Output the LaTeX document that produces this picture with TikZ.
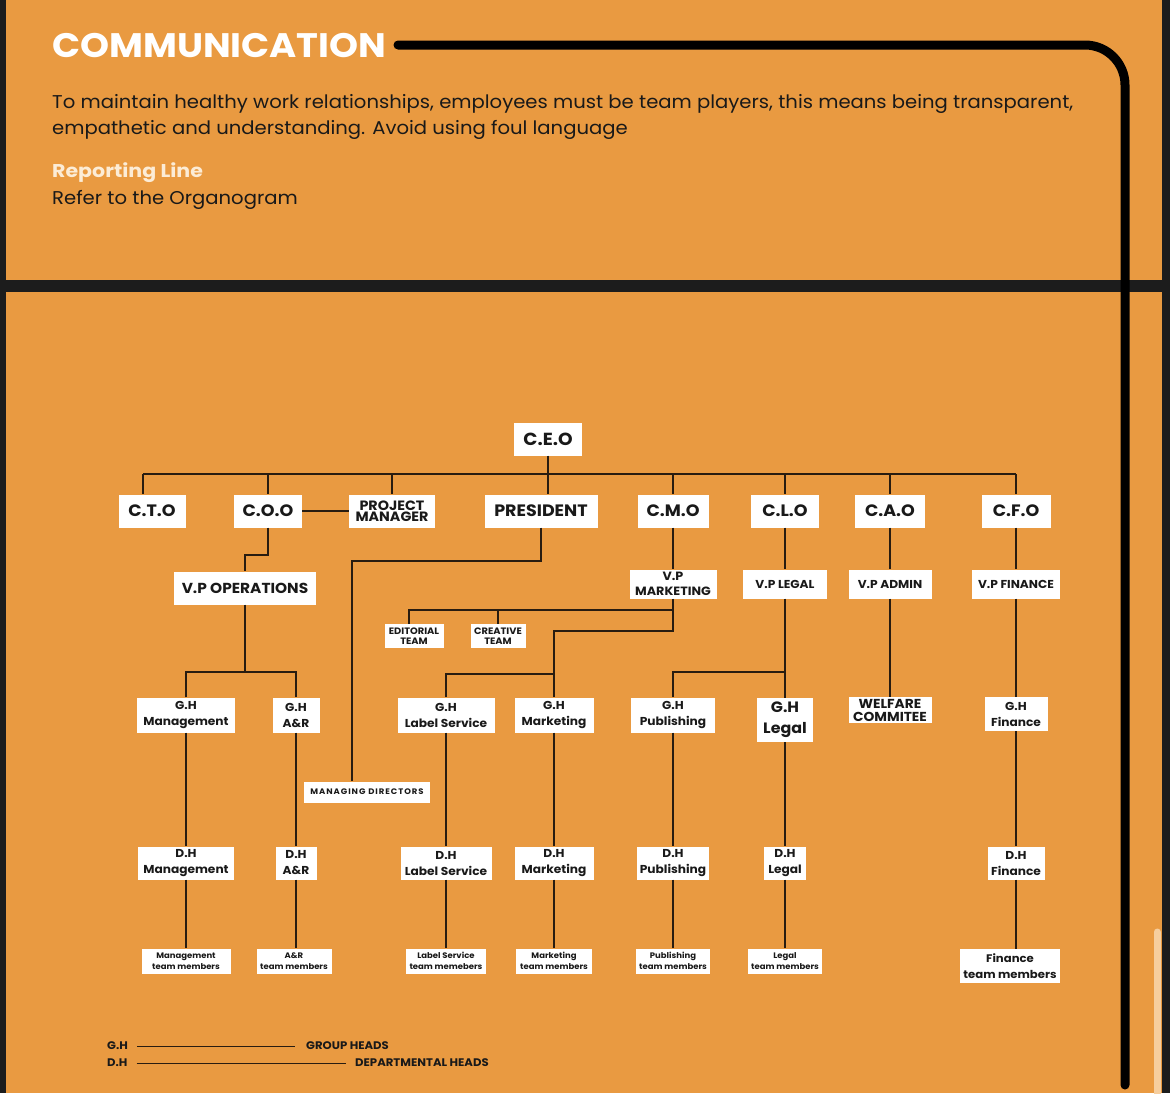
\documentclass[tikz,border=0pt]{standalone}
\usepackage{fontspec}
\setmainfont{Poppins}[FakeStretch=1.06]
\usetikzlibrary{positioning}
\definecolor{pageorange}{RGB}{233,154,65}
\definecolor{framedark}{RGB}{28,28,28}
\definecolor{inkline}{RGB}{40,28,16}
\definecolor{creamtext}{RGB}{252,236,214}
\definecolor{scrollpale}{RGB}{246,206,158}

\begin{document}
\begin{tikzpicture}[x=1pt, y=-1pt,
  box/.style={fill=white, text=black!90, inner xsep=3pt, inner ysep=0pt, minimum height=33pt, align=center, font=\bfseries\fontsize{16.5}{16}\selectfont},
  vpbox/.style={box, minimum height=29pt, font=\bfseries\fontsize{11.5}{15}\selectfont},
  headbox/.style={box, minimum height=35pt, font=\bfseries\fontsize{11.5}{16}\selectfont},
  teambox/.style={box, minimum height=25pt, font=\bfseries\fontsize{8}{11}\selectfont},
  tinybox/.style={box, minimum height=24pt, font=\bfseries\fontsize{9.3}{10}\selectfont},
  link/.style={draw=inkline, line width=1.4pt},
  legend/.style={inner xsep=0pt, inner ysep=0pt, text=black!90, font=\bfseries\fontsize{11}{11}\selectfont}]
\useasboundingbox (0,0) rectangle (1170,1093);
% page and frame
\fill[framedark] (0,0) rectangle (1170,1093);
\fill[pageorange] (6,0) rectangle (1162,280);
\fill[pageorange] (6,292) rectangle (1162,1093);
\draw[scrollpale, line width=7pt, line cap=round] (1157,932) -- (1157,1100);
\draw[black, line width=9pt, line cap=round, rounded corners=40pt] (398,45) -- (1125,45) -- (1125,1085);

% header text
\node[anchor=base west, inner sep=0, text=white, font=\bfseries\fontsize{34}{34}\selectfont\addfontfeature{FakeStretch=1.085}] (title) at (52,57) {COMMUNICATION};
\node[anchor=base west, inner sep=0, text=black!90, font=\fontsize{18.5}{20}\selectfont] (intro1) at (52,108) {To maintain healthy work relationships, employees must be team players, this means being transparent,};
\node[anchor=base west, inner sep=0, text=black!90, font=\fontsize{18.5}{20}\selectfont] (intro2) at (52,134) {empathetic and understanding. Avoid using foul language};
\node[anchor=base west, inner sep=0, text=creamtext, font=\bfseries\fontsize{18.5}{20}\selectfont\addfontfeature{FakeStretch=1.11}] (replabel) at (52,177) {Reporting Line};
\node[anchor=base west, inner sep=0, text=black!90, font=\fontsize{18.5}{20}\selectfont] (reptext) at (52,204) {Refer to the Organogram};

% chiefs
\node[box, minimum width=68pt, font=\bfseries\fontsize{17.5}{16}\selectfont] (ceo) at (548,439) {C.E.O};
\node[box, minimum width=67pt] (cto) at (152,511) {C.T.O};
\node[box, minimum width=68pt] (coo) at (268,511) {C.O.O};
\node[box, minimum width=86pt, font=\bfseries\fontsize{13.5}{11.5}\selectfont] (pm) at (392,511) {PROJECT\\MANAGER};
\node[box, minimum width=113pt] (president) at (541,511) {PRESIDENT};
\node[box, minimum width=71pt] (cmo) at (673,511) {C.M.O};
\node[box, minimum width=68pt] (clo) at (785,511) {C.L.O};
\node[box, minimum width=70pt] (cao) at (890,511) {C.A.O};
\node[box, minimum width=69pt] (cfo) at (1016,511) {C.F.O};

% vice presidents
\node[box, minimum width=142pt, font=\bfseries\fontsize{14.5}{14}\selectfont] (vpops) at (245,588) {V.P OPERATIONS};
\node[vpbox, minimum width=87pt, font=\bfseries\fontsize{12}{15.5}\selectfont] (vpmkt) at (673,584) {V.P\\MARKETING};
\node[vpbox, minimum width=84pt] (vplegal) at (785,584) {V.P LEGAL};
\node[vpbox, minimum width=83pt] (vpadmin) at (890,584) {V.P ADMIN};
\node[vpbox, minimum width=88pt] (vpfin) at (1016,584) {V.P FINANCE};
\node[tinybox, minimum width=59pt] (editorial) at (414,636) {EDITORIAL\\TEAM};
\node[tinybox, minimum width=55pt] (creative) at (498,636) {CREATIVE\\TEAM};

% group heads
\node[headbox, minimum width=98pt] (ghmgt) at (186,715) {G.H\\Management};
\node[headbox, minimum width=47pt] (ghar) at (296,715) {G.H\\A\&R};
\node[headbox, minimum width=97pt] (ghlbl) at (446,715) {G.H\\Label Service};
\node[headbox, minimum width=79pt] (ghmkt) at (554,715) {G.H\\Marketing};
\node[headbox, minimum width=84pt] (ghpub) at (673,715) {G.H\\Publishing};
\node[headbox, minimum width=56pt, minimum height=44pt, font=\bfseries\fontsize{15}{21}\selectfont] (ghlegal) at (785,720) {G.H\\Legal};
\node[headbox, minimum width=83pt, minimum height=26pt, font=\bfseries\fontsize{13}{13}\selectfont] (welfare) at (890,710) {WELFARE\\COMMITEE};
\node[headbox, minimum width=63pt, minimum height=34pt] (ghfin) at (1016,714) {G.H\\Finance};
\node[box, minimum width=126pt, minimum height=21pt, font=\bfseries\fontsize{8}{8}\selectfont] (md) at (367,792) {\addfontfeature{LetterSpace=12}MANAGING DIRECTORS};

% departmental heads
\node[headbox, minimum width=96pt, minimum height=33pt] (dhmgt) at (186,863) {D.H\\Management};
\node[headbox, minimum width=41pt, minimum height=33pt] (dhar) at (296,863) {D.H\\A\&R};
\node[headbox, minimum width=91pt, minimum height=33pt] (dhlbl) at (446,863) {D.H\\Label Service};
\node[headbox, minimum width=79pt, minimum height=33pt] (dhmkt) at (554,863) {D.H\\Marketing};
\node[headbox, minimum width=70pt, minimum height=33pt] (dhpub) at (673,863) {D.H\\Publishing};
\node[headbox, minimum width=42pt, minimum height=33pt] (dhlegal) at (785,863) {D.H\\Legal};
\node[headbox, minimum width=57pt, minimum height=33pt] (dhfin) at (1016,863) {D.H\\Finance};

% team members
\node[teambox, minimum width=89pt] (tmmgt) at (186,961) {Management\\team members};
\node[teambox, minimum width=75pt] (tmar) at (294,961) {A\&R\\team members};
\node[teambox, minimum width=80pt] (tmlbl) at (446,961) {Label Service\\team memebers};
\node[teambox, minimum width=76pt] (tmmkt) at (554,961) {Marketing\\team members};
\node[teambox, minimum width=73pt] (tmpub) at (673,961) {Publishing\\team members};
\node[teambox, minimum width=74pt] (tmlegal) at (785,961) {Legal\\team members};
\node[teambox, minimum width=100pt, minimum height=34pt, font=\bfseries\fontsize{11}{16}\selectfont] (tmfin) at (1010,966) {Finance\\team members};

% legend
\node[legend, anchor=west] (lgh) at (107,1046) {G.H};
\node[legend, anchor=west] (lghtxt) at (306,1046) {GROUP HEADS};
\node[legend, anchor=west] (ldh) at (107,1063) {D.H};
\node[legend, anchor=west] (ldhtxt) at (355,1063) {DEPARTMENTAL HEADS};
\draw[inkline, line width=1pt, shorten <=9pt, shorten >=11pt] (lgh.east) -- (lghtxt.west);
\draw[inkline, line width=1pt, shorten <=9pt, shorten >=9pt] (ldh.east) -- (ldhtxt.west);

% reporting lines
\coordinate (busL) at (143,474);
\coordinate (busR) at (1016,474);
\coordinate (cooknee) at (268,555);
\coordinate (presbend) at (352,561);
\coordinate (opsbus) at (245,672);
\coordinate (mktA) at (673,610);
\coordinate (mktB) at (673,631);
\coordinate (lblbus) at (554,674);
\coordinate (legbus) at (785,672);
\draw[link] (busL) -- (busR);
\draw[link] (busL) -- ([xshift=-9pt]cto.north);
\foreach \n in {coo,pm,cmo,clo,cao,cfo}{\draw[link] (\n.north |- busL) -- (\n.north);}
\draw[link] (ceo.south) -- (ceo.south |- president.north);
\draw[link] (coo.east) -- (pm.west);
\draw[link] (coo.south) -- (cooknee) -| (vpops.north);
\draw[link] (president.south) |- (presbend) -- ([xshift=-15pt]md.north);
\draw[link] (vpops.south) -- (opsbus);
\draw[link] (ghmgt.north) |- (opsbus) -| (ghar.north);
\draw[link] (vpmkt.south) -- (mktB) -| (lblbus) -- (ghmkt.north);
\draw[link] (lblbus) -| (ghlbl.north);
\draw[link] ([xshift=-5pt]editorial.north) |- (mktA);
\draw[link] (creative.north) -- (creative.north |- mktA);
\draw[link] (legbus) -| (ghpub.north);
\foreach \i/\j in {cmo/vpmkt,clo/vplegal,vplegal/ghlegal,cao/vpadmin,vpadmin/welfare,cfo/vpfin,vpfin/ghfin,ghmgt/dhmgt,dhmgt/tmmgt,ghar/dhar,dhar/tmar,ghlbl/dhlbl,dhlbl/tmlbl,ghmkt/dhmkt,dhmkt/tmmkt,ghpub/dhpub,dhpub/tmpub,ghlegal/dhlegal,dhlegal/tmlegal,ghfin/dhfin,dhfin/tmfin}{\draw[link] (\i.south) -- (\i.south |- \j.north);}
\end{tikzpicture}
\end{document}
